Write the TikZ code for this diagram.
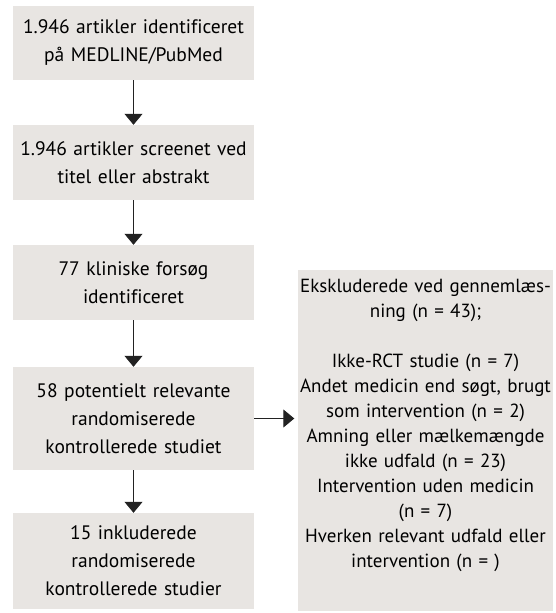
\documentclass[tikz,border=0pt]{standalone}
\usepackage{fontspec}
\setmainfont{PT Sans}[Ligatures={NoCommon}]
\usetikzlibrary{arrows.meta}
\definecolor{boxgray}{HTML}{E8E5E2}
\definecolor{linegray}{HTML}{222222}
\tikzset{
  flowbox/.style={rectangle, fill=boxgray, minimum width=241pt, inner sep=0pt,
    align=center, text width=240pt, font=\fontsize{19.5pt}{28pt}\selectfont},
  flowarrow/.style={draw=linegray, line width=1pt, -{Triangle[width=18pt,length=11pt]}},
}
\begin{document}
\begin{tikzpicture}[x=1pt,y=-1pt]
\useasboundingbox (0,0) rectangle (555,613);
\node[flowbox, minimum height=74pt] (b1) at (133.5,43) {1.946 artikler identificeret\\på MEDLINE/PubMed};
\node[flowbox, minimum height=75pt] (b2) at (133.5,162.5) {1.946 artikler screenet ved\\titel eller abstrakt};
\node[flowbox, minimum height=75pt] (b3) at (133.5,282.5) {77 kliniske forsøg\\identificeret};
\node[flowbox, minimum height=103pt] (b4) at (133.5,418.5) {58 potentielt relevante\\randomiserede\\kontrollerede studiet};
\node[flowbox, minimum height=96pt] (b5) at (133.5,561) {15 inkluderede\\randomiserede\\kontrollerede studier};
\fill[boxgray] (298,270) rectangle (553,611);
\node[anchor=north, align=center, text width=262pt, inner sep=0pt,
  font=\fontsize{19pt}{25pt}\selectfont] (excl) at (425.5,279)
  {Ekskluderede ved gennemlæs-\\ning (n = 43);\\[25pt]
   Ikke-RCT studie (n = 7)\\Andet medicin end søgt, brugt\\som intervention (n = 2)\\
   Amning eller mælkemængde\\ikke udfald (n = 23)\\Intervention uden medicin\\(n = 7)\\
   Hverken relevant udfald eller\\intervention (n = )};
\draw[flowarrow] (b1) -- (b2);
\draw[flowarrow] (b2) -- (b3);
\draw[flowarrow] (b3) -- (b4);
\draw[flowarrow] (b4) -- (b5);
\draw[flowarrow] (b4.east) -- (b4.east -| excl.west);
\end{tikzpicture}
\end{document}
